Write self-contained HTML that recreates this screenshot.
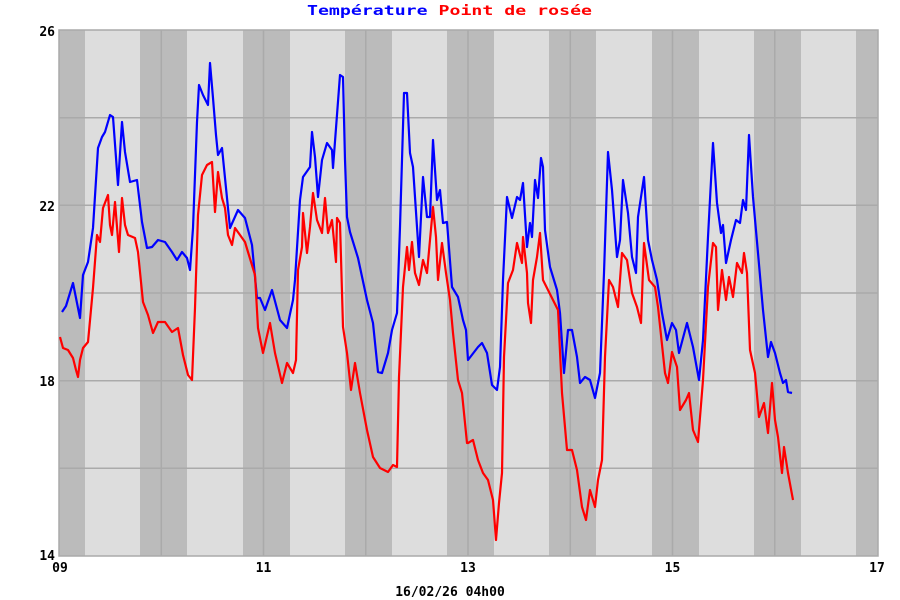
<!DOCTYPE html>
<html><head><meta charset="utf-8"><style>
html,body{margin:0;padding:0;background:#fff}
svg{display:block}
text{font-family:"DejaVu Sans Mono","Liberation Mono",monospace;font-weight:bold;font-size:13px}
</style></head><body>
<svg width="900" height="600" xmlns="http://www.w3.org/2000/svg">
<rect x="59" y="30" width="819" height="526" fill="#dddddd"/>
<g fill="#bbbbbb">
<rect x="59" y="30" width="26" height="526"/>
<rect x="140" y="30" width="47" height="526"/>
<rect x="243" y="30" width="47" height="526"/>
<rect x="345" y="30" width="47" height="526"/>
<rect x="447" y="30" width="47" height="526"/>
<rect x="549" y="30" width="47" height="526"/>
<rect x="652" y="30" width="47" height="526"/>
<rect x="754" y="30" width="47" height="526"/>
<rect x="856" y="30" width="22" height="526"/>
</g>
<g stroke="#aaaaaa" stroke-width="1.5">
<line x1="59" y1="117.7" x2="878" y2="117.7"/>
<line x1="59" y1="205.3" x2="878" y2="205.3"/>
<line x1="59" y1="293" x2="878" y2="293"/>
<line x1="59" y1="380.7" x2="878" y2="380.7"/>
<line x1="59" y1="468.3" x2="878" y2="468.3"/>
<line x1="161.3" y1="30" x2="161.3" y2="556"/>
<line x1="263.5" y1="30" x2="263.5" y2="556"/>
<line x1="365.8" y1="30" x2="365.8" y2="556"/>
<line x1="468" y1="30" x2="468" y2="556"/>
<line x1="570.3" y1="30" x2="570.3" y2="556"/>
<line x1="672.5" y1="30" x2="672.5" y2="556"/>
<line x1="774.8" y1="30" x2="774.8" y2="556"/>
</g>
<rect x="59" y="30" width="819" height="526" fill="none" stroke="#aaaaaa" stroke-width="1.5"/>
<polyline fill="none" stroke="#0000ff" stroke-width="2.2" stroke-linejoin="round" points="62,312 66,306 73,283 80,318 83,275 88,262 93,228 98,148 102,137 105,132 110,115 113,117 118,185 122,122 125,152 130,182 137,180 142,222 147,248 152,247 158,240 165,242 172,252 177,260 182,252 187,258 190,270 193,228 197,122 199,85 203,95 208,105 210,63 213,98 216,135 218,155 222,148 226,188 230,228 238,210 245,218 252,245 257,298 260,298 265,310 272,290 280,320 287,328 293,300 295,280 300,200 303,177 310,167 312,132 315,157 318,197 322,160 327,143 332,150 333,168 340,75 343,77 345,160 347,217 350,232 358,258 367,300 373,323 378,372 382,373 388,353 392,330 397,313 400,227 404,93 407,93 410,153 413,167 417,227 419,257 423,177 427,217 430,217 433,140 437,200 440,190 443,223 447,222 452,287 458,297 463,320 466,330 468,360 478,347 482,343 487,353 492,385 497,390 500,367 503,280 507,197 512,218 517,197 520,200 523,183 527,247 530,223 532,237 535,180 538,198 541,158 543,167 545,230 550,267 557,290 560,313 564,373 568,330 572,330 577,357 580,383 585,377 590,380 595,398 600,373 604,273 608,152 612,190 617,257 620,240 623,180 628,213 632,257 636,273 638,217 644,177 648,240 652,260 657,280 662,313 667,340 672,323 676,330 679,353 687,323 693,347 699,380 703,340 708,237 713,143 717,203 721,233 723,225 726,263 731,240 736,220 740,223 743,200 746,210 749,135 753,197 758,253 763,310 768,357 771,342 775,353 780,373 783,383 786,380 788,392 792,393"/>
<polyline fill="none" stroke="#ff0000" stroke-width="2.2" stroke-linejoin="round" points="60,337 63,348 68,350 73,358 76,370 78,377 80,360 83,348 88,342 93,288 97,235 100,242 103,208 108,195 110,225 112,235 115,202 119,252 122,198 125,225 128,235 135,238 138,252 143,302 148,315 153,333 158,322 165,322 172,332 178,328 183,355 188,375 192,380 195,308 198,215 202,175 207,165 212,162 215,212 218,172 222,198 225,208 228,235 232,245 235,228 240,235 245,242 248,252 255,275 258,328 263,353 270,323 275,353 282,383 287,363 293,373 296,360 298,270 302,247 303,213 307,253 310,227 313,193 317,220 322,233 325,198 328,233 332,220 336,262 337,218 340,223 343,327 347,353 351,390 355,363 360,393 367,430 373,457 380,468 388,472 393,465 397,467 399,377 403,287 407,247 409,270 412,242 415,273 419,285 423,260 427,273 430,240 433,207 436,237 438,280 442,243 446,273 450,300 453,333 458,380 462,393 467,443 468,443 473,440 478,460 483,473 488,480 493,500 496,540 499,503 502,473 504,357 508,283 513,270 517,243 522,263 523,237 527,273 528,303 531,323 533,280 537,257 540,233 543,280 548,290 553,300 558,310 562,393 567,450 572,450 577,470 582,507 586,520 590,490 595,507 598,480 602,460 605,357 609,280 613,287 618,307 622,253 627,260 632,293 637,307 641,323 644,243 649,280 655,287 658,307 665,373 668,383 672,352 677,367 680,410 686,400 689,393 693,430 698,442 703,380 708,287 713,243 716,247 718,310 722,270 726,300 729,277 733,297 737,263 742,273 744,253 747,273 750,350 755,373 759,417 764,403 768,433 772,383 775,420 778,437 782,473 784,447 788,473 793,500"/>
<text x="307" y="15" font-size="16" textLength="285" lengthAdjust="spacingAndGlyphs"><tspan fill="#0000ff">Température</tspan> <tspan fill="#ff0000">Point de rosée</tspan></text>
<g fill="#000" text-anchor="end">
<text x="55" y="36">26</text>
<text x="55" y="211">22</text>
<text x="55" y="386">18</text>
<text x="55" y="560">14</text>
</g>
<g fill="#000" text-anchor="middle">
<text x="60" y="572">09</text>
<text x="263.5" y="572">11</text>
<text x="468" y="572">13</text>
<text x="672.5" y="572">15</text>
<text x="877" y="572">17</text>
<text x="450" y="596">16/02/26 04h00</text>
</g>
</svg>
</body></html>
